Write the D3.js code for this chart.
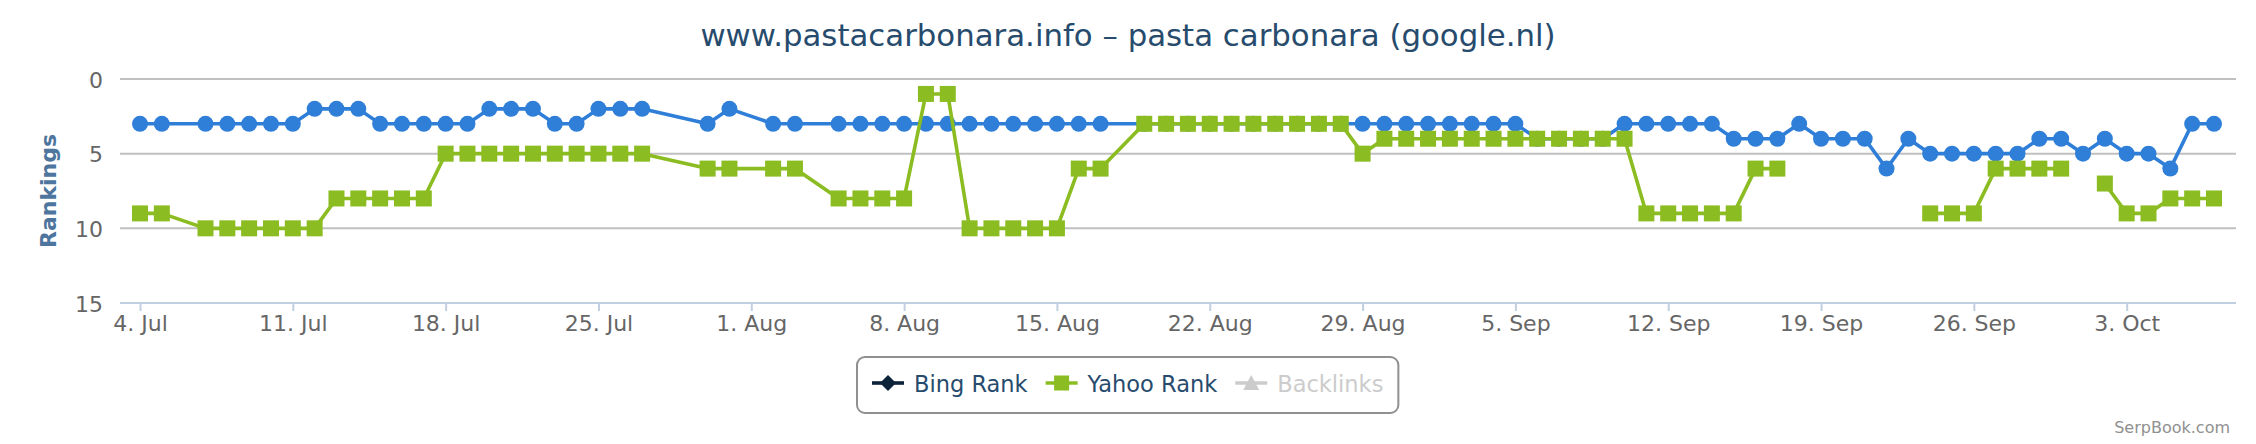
<!DOCTYPE html>
<html>
<head>
<meta charset="utf-8">
<script src="https://cdn.jsdelivr.net/npm/d3@7"></script>
<style>
  html, body { margin: 0; padding: 0; background: #fff; }
  svg { display: block; font-family: "DejaVu Sans", Verdana, sans-serif; }
</style>
</head>
<body>
<svg id="chart" width="2256" height="444"></svg>
<script>
// ---------- DATA ----------
const titleText = "www.pastacarbonara.info \u2013 pasta carbonara (google.nl)";
const yAxisTitle = "Rankings";
const creditsText = "SerpBook.com";
const year = 2013;

const dates = [
  "07-04","07-05","07-07","07-08","07-09","07-10","07-11","07-12","07-13","07-14",
  "07-15","07-16","07-17","07-18","07-19","07-20","07-21","07-22","07-23","07-24",
  "07-25","07-26","07-27","07-30","07-31",
  "08-02","08-03","08-05","08-06","08-07","08-08","08-09","08-10","08-11","08-12",
  "08-13","08-14","08-15","08-16","08-17","08-19","08-20","08-21","08-22","08-23",
  "08-24","08-25","08-26","08-27","08-28","08-29","08-30","08-31",
  "09-01","09-02","09-03","09-04","09-05","09-06","09-07","09-08","09-09","09-10",
  "09-11","09-12","09-13","09-14","09-15","09-16","09-17","09-18","09-19","09-20",
  "09-21","09-22","09-23","09-24","09-25","09-26","09-27","09-28","09-29","09-30",
  "10-01","10-02","10-03","10-04","10-05","10-06","10-07"
];

// Google rank (blue circles)
const googleRank = [
  3,3,3,3,3,3,3,2,2,2,
  3,3,3,3,3,2,2,2,3,3,
  2,2,2,3,2,
  3,3,3,3,3,3,3,3,3,3,
  3,3,3,3,3,3,3,3,3,3,
  3,3,3,3,3,3,3,3,
  3,3,3,3,3,4,4,4,4,3,
  3,3,3,3,4,4,4,3,4,4,
  4,6,4,5,5,5,5,5,4,4,
  5,4,5,5,6,3,3
];

// Yahoo rank (green squares); null = no rank (line break)
const yahooRank = [
  9,9,10,10,10,10,10,10,8,8,
  8,8,8,5,5,5,5,5,5,5,
  5,5,5,6,6,
  6,6,8,8,8,8,1,1,10,10,
  10,10,10,6,6,3,3,3,3,3,
  3,3,3,3,3,5,4,4,
  4,4,4,4,4,4,4,4,4,4,
  9,9,9,9,9,6,6,null,null,null,
  null,null,null,9,9,9,6,6,6,6,
  null,7,9,9,8,8,8
];

const xTickLabels = ["4. Jul","11. Jul","18. Jul","25. Jul","1. Aug","8. Aug","15. Aug",
  "22. Aug","29. Aug","5. Sep","12. Sep","19. Sep","26. Sep","3. Oct"];
const yTicks = [0, 5, 10, 15];

const legendItems = ["Bing Rank", "Yahoo Rank", "Backlinks"];

// ---------- LAYOUT ----------
const W = 2256, H = 444;
const plot = { left: 120, right: 2236, top: 79, bottom: 303 };
const colors = { google: "#2f7ed8", bing: "#0d233a", yahoo: "#8bbc21", backlinks: "#cccccc" };
const fontMain = "DejaVu Sans, Verdana, sans-serif";

const parseDate = d3.utcParse("%Y-%m-%d");
const parseTick = d3.utcParse("%d. %b %Y");
const points = dates.map((d, i) => ({ date: parseDate(year + "-" + d), g: googleRank[i], y: yahooRank[i] }));

const svg = d3.select("#chart");
svg.append("rect").attr("width", W).attr("height", H).attr("fill", "#fff");

// x scale: first and last data points sit inside the plot with padding
const ext = d3.extent(points, p => p.date);
const x = d3.scaleUtc().domain(ext).range([140, 2214]);
const y = d3.scaleLinear().domain([0, 15]).range([plot.top, plot.bottom]);

// gridlines
const gGrid = svg.append("g");
yTicks.filter(t => t !== 15).forEach(t => {
  gGrid.append("line")
    .attr("x1", plot.left).attr("x2", plot.right)
    .attr("y1", y(t)).attr("y2", y(t))
    .attr("stroke", "#c0c0c0").attr("stroke-width", 2);
});

// x axis
const tickDates = xTickLabels.map(l => parseTick(l + " " + year));
const xAxis = d3.axisBottom(x)
  .tickValues(tickDates)
  .tickFormat((d, i) => xTickLabels[i])
  .tickSize(8).tickPadding(10).tickSizeOuter(0);
const gx = svg.append("g").attr("transform", `translate(0,${plot.bottom})`).call(xAxis);
gx.select(".domain").remove();
gx.append("line").attr("x1", plot.left).attr("x2", plot.right).attr("y1", 0).attr("y2", 0)
  .attr("stroke", "#c0d0e0").attr("stroke-width", 2);
gx.selectAll(".tick line").attr("stroke", "#c0d0e0").attr("stroke-width", 2);
gx.selectAll(".tick text").attr("fill", "#666").attr("font-size", 22).attr("font-family", fontMain)
  .attr("dy", null).attr("y", 28);

// y axis labels
const yAxis = d3.axisLeft(y).tickValues(yTicks).tickSize(0).tickPadding(0);
const gy = svg.append("g").attr("transform", `translate(103,0)`).call(yAxis);
gy.select(".domain").remove();
gy.selectAll(".tick text").attr("fill", "#666").attr("font-size", 22).attr("font-family", fontMain)
  .attr("dy", null).attr("x", 0).attr("y", 8);

// y axis title
svg.append("text")
  .attr("transform", `translate(56,${(plot.top + plot.bottom) / 2}) rotate(-90)`)
  .attr("text-anchor", "middle")
  .attr("font-size", 22).attr("font-weight", "bold").attr("fill", "#4d759e")
  .attr("font-family", fontMain)
  .text(yAxisTitle);

// title
svg.append("text").attr("x", W / 2).attr("y", 46).attr("text-anchor", "middle")
  .attr("font-size", 30.8).attr("fill", "#274b6d").attr("font-family", fontMain)
  .text(titleText);

// series: google
const lineG = d3.line().x(p => x(p.date)).y(p => y(p.g)).defined(p => p.g != null);
const gG = svg.append("g");
gG.append("path").attr("d", lineG(points)).attr("fill", "none")
  .attr("stroke", colors.google).attr("stroke-width", 3.6).attr("stroke-linejoin", "round");
gG.selectAll("circle").data(points.filter(p => p.g != null)).join("circle")
  .attr("cx", p => x(p.date)).attr("cy", p => y(p.g)).attr("r", 8).attr("fill", colors.google);

// series: yahoo
const lineY = d3.line().x(p => x(p.date)).y(p => y(p.y)).defined(p => p.y != null);
const gY = svg.append("g");
gY.append("path").attr("d", lineY(points)).attr("fill", "none")
  .attr("stroke", colors.yahoo).attr("stroke-width", 3.6).attr("stroke-linejoin", "round");
gY.selectAll("rect").data(points.filter(p => p.y != null)).join("rect")
  .attr("x", p => x(p.date) - 8).attr("y", p => y(p.y) - 8)
  .attr("width", 16).attr("height", 16).attr("fill", colors.yahoo);

// legend
const legend = svg.append("g");
const legendColors = [colors.bing, colors.yahoo, colors.backlinks];
const textColors = ["#274b6d", "#274b6d", "#cccccc"];
const symW = 32, symGap = 10, itemGap = 18, legFont = 22.5;
const legY = 383;
let cx = 0;
const items = legendItems.map((name, i) => {
  const g = legend.append("g");
  g.append("line").attr("x1", 0).attr("x2", symW).attr("y1", 0).attr("y2", 0)
    .attr("stroke", legendColors[i]).attr("stroke-width", 3.6);
  if (i === 0) {
    g.append("path").attr("d", "M16,-8 L24,0 L16,8 L8,0 Z").attr("fill", legendColors[i]);
  } else if (i === 1) {
    g.append("rect").attr("x", 8.5).attr("y", -7.5).attr("width", 15).attr("height", 15).attr("fill", legendColors[i]);
  } else {
    g.append("path").attr("d", "M16,-8 L24,7 L8,7 Z").attr("fill", legendColors[i]);
  }
  const t = g.append("text").attr("x", symW + symGap).attr("y", 9)
    .attr("font-size", legFont).attr("fill", textColors[i]).attr("font-family", fontMain).text(name);
  const w = symW + symGap + t.node().getComputedTextLength();
  const item = { g, x: cx, w };
  cx += w + itemGap;
  return item;
});
const totalW = cx - itemGap;
const padX = 15;
const boxW = totalW + 2 * padX;
const boxX = Math.round(W / 2 - boxW / 2);
items.forEach(it => it.g.attr("transform", `translate(${boxX + padX + it.x},${legY})`));
legend.insert("rect", ":first-child")
  .attr("x", boxX).attr("y", 357).attr("width", boxW).attr("height", 56)
  .attr("rx", 8).attr("fill", "#fff").attr("stroke", "#909090").attr("stroke-width", 2);

// credits
svg.append("text").attr("x", 2230).attr("y", 433).attr("text-anchor", "end")
  .attr("font-size", 16).attr("fill", "#909090").attr("font-family", fontMain)
  .text(creditsText);
</script>
</body>
</html>
